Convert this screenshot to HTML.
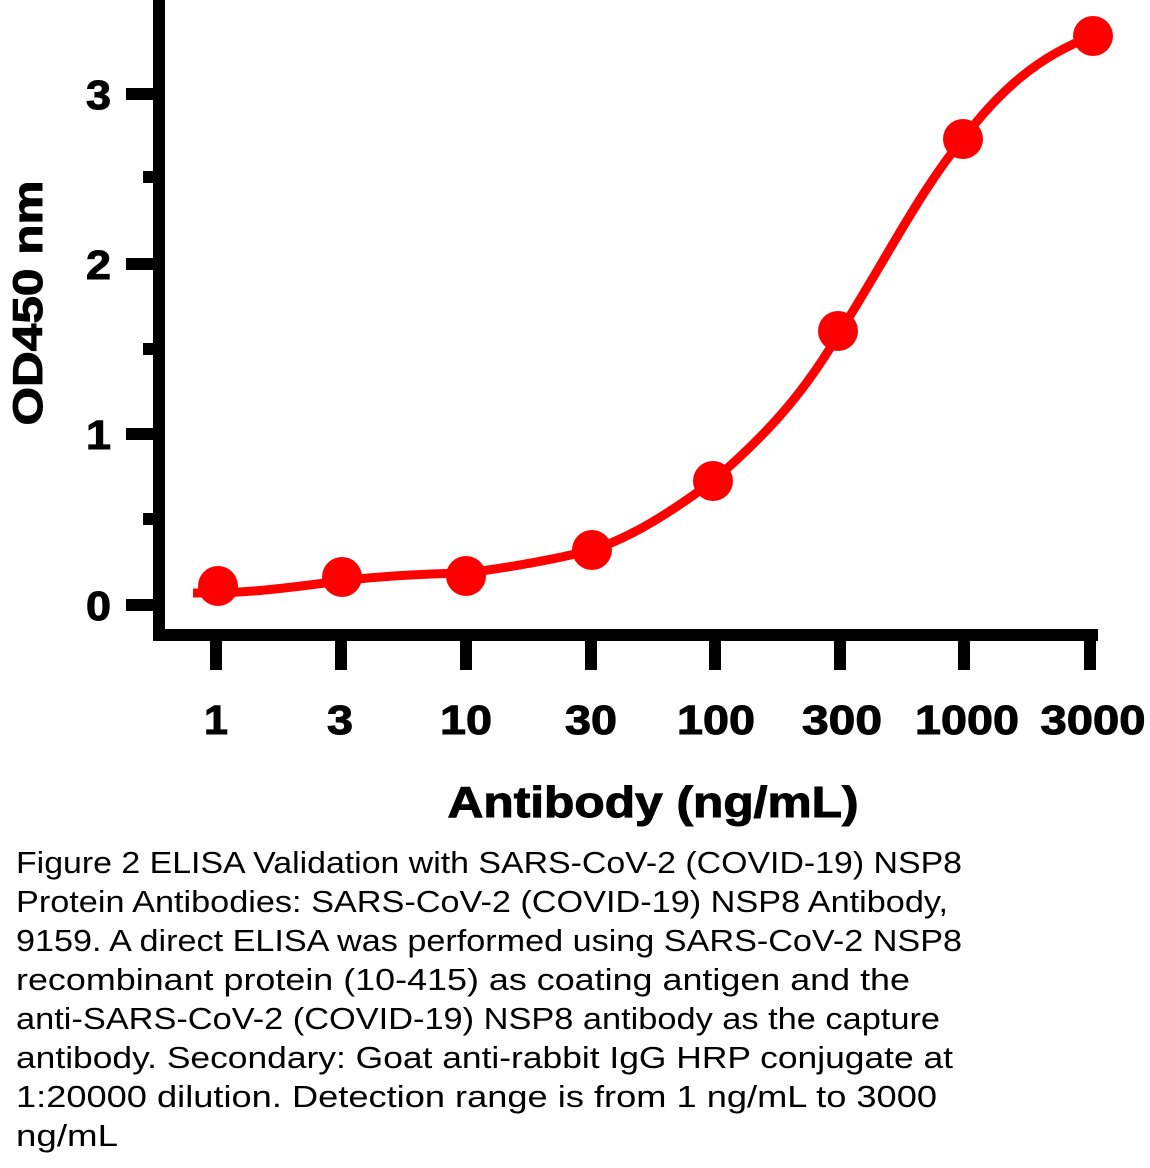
<!DOCTYPE html>
<html><head><meta charset="utf-8"><style>
html,body{margin:0;padding:0;background:#fff;}
svg{display:block;}
</style></head><body>
<svg width="1150" height="1168" viewBox="0 0 1150 1168" xmlns="http://www.w3.org/2000/svg">
<rect width="1150" height="1168" fill="#fff"/>
<g fill="#000">
<rect x="153" y="0" width="12" height="641"/>
<rect x="155" y="629" width="943" height="12"/>
<rect x="126" y="88" width="30" height="12"/>
<rect x="126" y="258" width="30" height="12"/>
<rect x="126" y="428" width="30" height="12"/>
<rect x="126" y="599" width="30" height="12"/>
<rect x="143" y="171" width="12" height="12"/>
<rect x="143" y="343" width="12" height="12"/>
<rect x="143" y="513" width="12" height="12"/>
<rect x="210" y="635" width="12" height="35"/>
<rect x="335" y="635" width="12" height="35"/>
<rect x="460" y="635" width="12" height="35"/>
<rect x="585" y="635" width="12" height="35"/>
<rect x="709" y="635" width="12" height="35"/>
<rect x="834" y="635" width="12" height="35"/>
<rect x="958" y="635" width="12" height="35"/>
<rect x="1084" y="635" width="12" height="35"/>
</g>
<g font-family="Liberation Sans, sans-serif" font-weight="bold" font-size="41" fill="#000" stroke="#000" stroke-width="1">
<text x="111" y="109" text-anchor="end" textLength="25" lengthAdjust="spacingAndGlyphs">3</text>
<text x="111" y="279" text-anchor="end" textLength="25" lengthAdjust="spacingAndGlyphs">2</text>
<text x="111" y="449" text-anchor="end" textLength="25" lengthAdjust="spacingAndGlyphs">1</text>
<text x="111" y="620" text-anchor="end" textLength="25" lengthAdjust="spacingAndGlyphs">0</text>
<g text-anchor="middle" lengthAdjust="spacingAndGlyphs">
<text x="216" y="734" textLength="24" lengthAdjust="spacingAndGlyphs">1</text>
<text x="340" y="734" textLength="26" lengthAdjust="spacingAndGlyphs">3</text>
<text x="466" y="734" textLength="52" lengthAdjust="spacingAndGlyphs">10</text>
<text x="591" y="734" textLength="52" lengthAdjust="spacingAndGlyphs">30</text>
<text x="716" y="734" textLength="78" lengthAdjust="spacingAndGlyphs">100</text>
<text x="842" y="734" textLength="80" lengthAdjust="spacingAndGlyphs">300</text>
<text x="967" y="734" textLength="104" lengthAdjust="spacingAndGlyphs">1000</text>
<text x="1093" y="734" textLength="105" lengthAdjust="spacingAndGlyphs">3000</text>
</g>
<text x="653" y="817" text-anchor="middle" font-size="44" textLength="411" lengthAdjust="spacingAndGlyphs">Antibody (ng/mL)</text>
<text transform="translate(42,303) rotate(-90)" text-anchor="middle" font-size="42" textLength="245" lengthAdjust="spacingAndGlyphs">OD450 nm</text>
</g>
<path d="M193,593 L216,593 C260,592 300,586 341,581 C380,576 420,574 466,573 C520,566 560,558 592,550 C630,538 670,513 713,481 C760,440 800,400 838,335 C880,270 920,190 963,139 C1000,90 1040,55 1093,36" fill="none" stroke="#ff0000" stroke-width="9" stroke-linejoin="round"/>
<g fill="#ff0000">
<ellipse cx="218" cy="586" rx="20" ry="20"/>
<ellipse cx="342" cy="577" rx="20" ry="20"/>
<ellipse cx="466" cy="576" rx="20" ry="20"/>
<ellipse cx="592" cy="550" rx="20" ry="20"/>
<ellipse cx="713" cy="481" rx="20" ry="20"/>
<ellipse cx="838" cy="331" rx="20" ry="20"/>
<ellipse cx="963" cy="139" rx="20" ry="20"/>
<ellipse cx="1093" cy="36" rx="20" ry="20"/>
</g>
<g font-family="Liberation Sans Narrow, Liberation Sans, sans-serif" font-size="31" fill="#000">
<text x="16" y="873" textLength="946" lengthAdjust="spacingAndGlyphs">Figure 2 ELISA Validation with SARS-CoV-2 (COVID-19) NSP8</text>
<text x="16" y="912" textLength="932" lengthAdjust="spacingAndGlyphs">Protein Antibodies: SARS-CoV-2 (COVID-19) NSP8 Antibody,</text>
<text x="16" y="951" textLength="946" lengthAdjust="spacingAndGlyphs">9159. A direct ELISA was performed using SARS-CoV-2 NSP8</text>
<text x="16" y="990" textLength="894" lengthAdjust="spacingAndGlyphs">recombinant protein (10-415) as coating antigen and the</text>
<text x="16" y="1029" textLength="924" lengthAdjust="spacingAndGlyphs">anti-SARS-CoV-2 (COVID-19) NSP8 antibody as the capture</text>
<text x="16" y="1068" textLength="937" lengthAdjust="spacingAndGlyphs">antibody. Secondary: Goat anti-rabbit IgG HRP conjugate at</text>
<text x="16" y="1107" textLength="921" lengthAdjust="spacingAndGlyphs">1:20000 dilution. Detection range is from 1 ng/mL to 3000</text>
<text x="16" y="1146" textLength="102" lengthAdjust="spacingAndGlyphs">ng/mL</text>
</g>
</svg>
</body></html>
